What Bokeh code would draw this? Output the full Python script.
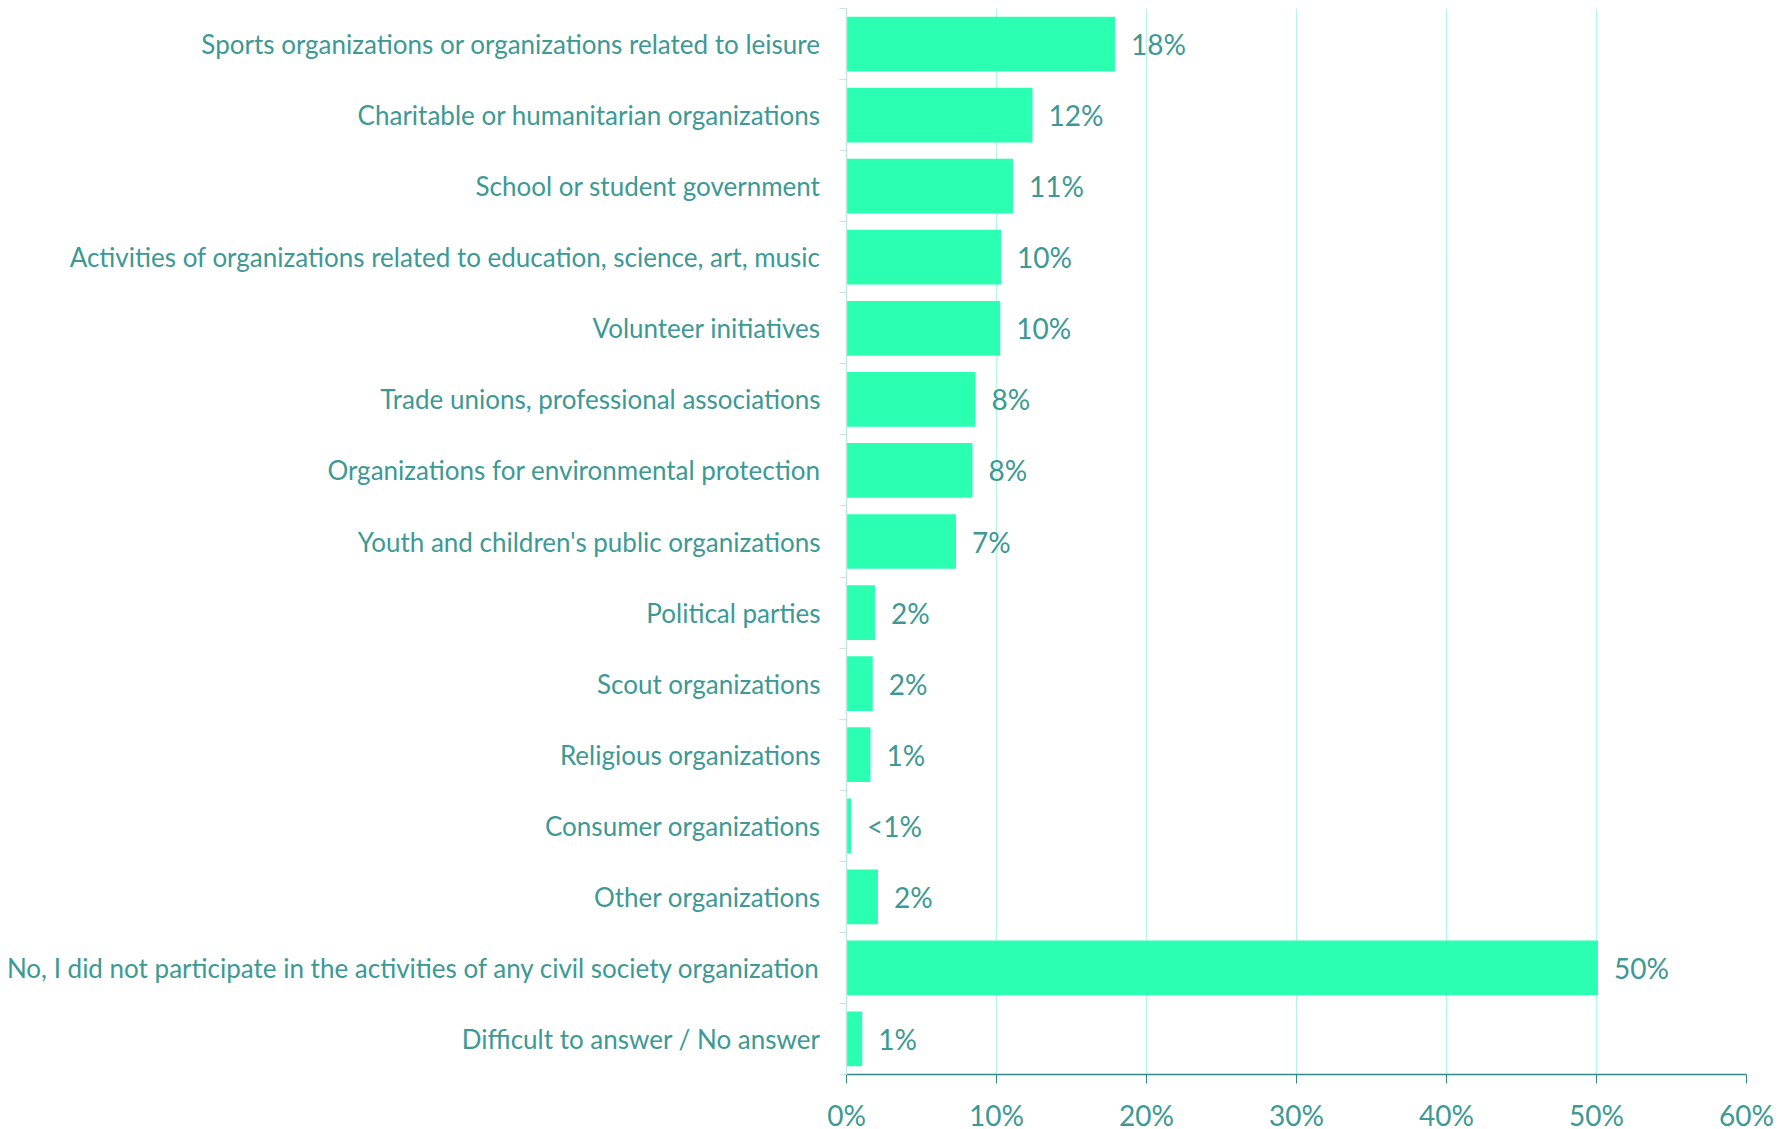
from bokeh.plotting import figure
from bokeh.models import Range1d, FixedTicker, ColumnDataSource
from bokeh.embed import file_html
from bokeh.resources import INLINE

categories = [
    "Sports organizations or organizations related to leisure",
    "Charitable or humanitarian organizations",
    "School or student government",
    "Activities of organizations related to education, science, art, music",
    "Volunteer initiatives",
    "Trade unions, professional associations",
    "Organizations for environmental protection",
    "Youth and children's public organizations",
    "Political parties",
    "Scout organizations",
    "Religious organizations",
    "Consumer organizations",
    "Other organizations",
    "No, I did not participate in the activities of any civil society organization",
    "Difficult to answer / No answer",
]
values = [17.9, 12.4, 11.1, 10.3, 10.25, 8.6, 8.4, 7.3, 1.9, 1.75, 1.6, 0.3, 2.1, 50.1, 1.05]
value_labels = ["18%", "12%", "11%", "10%", "10%", "8%", "8%", "7%", "2%", "2%", "1%", "<1%", "2%", "50%", "1%"]
x_ticks = [0, 10, 20, 30, 40, 50, 60]

FONT = "Lato"
TEXT = "#3c9994"
BAR = "#2bffb2"

n = len(categories)
pos = list(range(n))
src = ColumnDataSource(dict(y=pos, v=values, lab=value_labels))

p = figure(output_backend="svg", toolbar_location=None,
           frame_width=900, frame_height=1066,
           min_border_left=846, min_border_right=28, min_border_top=8, min_border_bottom=52,
           x_range=Range1d(0, 60), y_range=Range1d(n - 0.5, -0.5))
p.outline_line_color = None
p.background_fill_color = "white"

p.hbar(y="y", right="v", left=0, height=0.77, source=src, color=BAR, line_color=None)
p.text(x="v", y="y", text="lab", source=src, x_offset=16, text_baseline="middle",
       text_align="left", text_color=TEXT, text_font_size="28px", text_font={"value": FONT})

# x axis
xa = p.xaxis[0]
xa.ticker = FixedTicker(ticks=x_ticks)
xa.major_label_overrides = {t: f"{t}%" for t in x_ticks}
xa.axis_line_color = "#2f8a86"
xa.axis_line_width = 1.5
xa.major_tick_line_color = "#2f8a86"
xa.major_tick_out = 9
xa.major_tick_in = 0
xa.minor_tick_line_color = None
xa.major_label_text_color = TEXT
xa.major_label_text_font = FONT
xa.major_label_text_font_size = "28px"
xa.major_label_standoff = 14

# y axis
ya = p.yaxis[0]
ya.ticker = FixedTicker(ticks=pos, minor_ticks=[i - 0.5 for i in range(n + 1)])
ya.major_label_overrides = {i: c for i, c in zip(pos, categories)}
ya.axis_line_color = "#c3e6e2"
ya.axis_line_width = 1.5
ya.major_tick_line_color = None
ya.minor_tick_line_color = "#c3e6e2"
ya.minor_tick_out = 7
ya.minor_tick_in = 0
ya.major_label_text_color = TEXT
ya.major_label_text_font = FONT
ya.major_label_text_font_size = "26px"
ya.major_label_standoff = 19

p.xgrid.ticker = FixedTicker(ticks=x_ticks[1:])
p.xgrid.grid_line_color = "#b5f6e2"
p.xgrid.grid_line_width = 1.2
p.ygrid.grid_line_color = None

open("out.html", "w").write(file_html(p, INLINE))
